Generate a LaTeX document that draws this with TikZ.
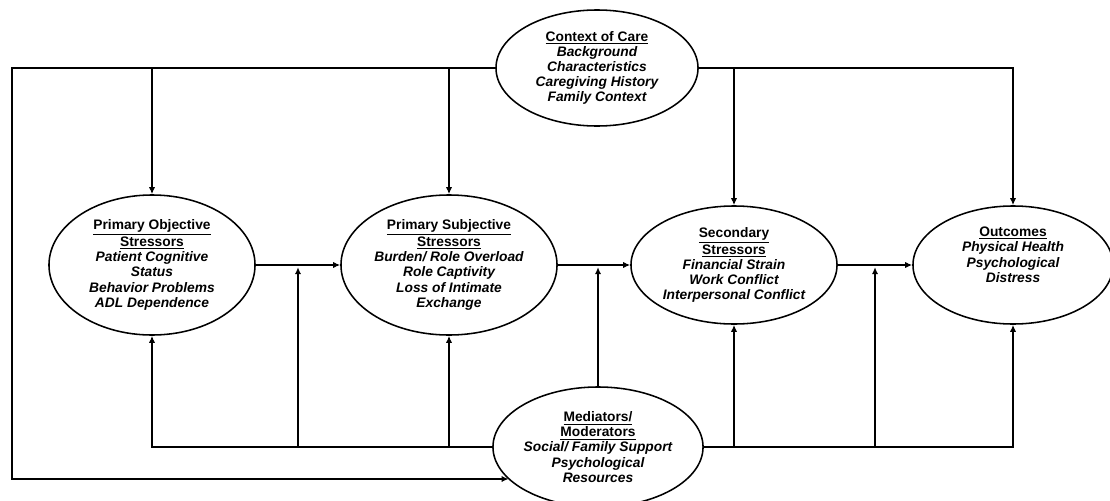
\documentclass[tikz,border=0pt]{standalone}
\usepackage{fontspec}
\setmainfont{Liberation Sans}
\usetikzlibrary{shapes.geometric,arrows.meta,calc}

\tikzset{
  stage/.style={ellipse, draw, line width=1.1pt, inner sep=0pt, align=center,
    font=\fontsize{9.8}{10.8}\selectfont\bfseries},
  arr/.style={-{Latex[length=5pt,width=4.5pt]}, line width=1.1pt},
}
\newcommand{\hd}[1]{\underline{#1}}

\begin{document}
\begin{tikzpicture}[x=0.025cm, y=-0.025cm]
    \useasboundingbox (0,0) rectangle (1110,500);

    % ellipses
    \node[stage, minimum width=5.05cm, minimum height=2.9cm] (ctx) at (597,68)
        {\hd{Context of Care}\\ \itshape Background\\ \itshape Characteristics\\ \itshape Caregiving History\\ \itshape Family Context};
    \node[stage, minimum width=5.15cm, minimum height=3.5cm] (obj) at (152,265)
        {\hd{Primary Objective}\\ \hd{Stressors}\\ \itshape Patient Cognitive\\ \itshape Status\\ \itshape Behavior Problems\\ \itshape ADL Dependence};
    \node[stage, minimum width=5.4cm, minimum height=3.5cm] (subj) at (449,265)
        {\hd{Primary Subjective}\\ \hd{Stressors}\\ \itshape Burden/ Role Overload\\ \itshape Role Captivity\\ \itshape Loss of Intimate\\ \itshape Exchange};
    \node[stage, minimum width=5.15cm, minimum height=2.95cm] (sec) at (734,265)
        {\hd{Secondary}\\ \hd{Stressors}\\ \itshape Financial Strain\\ \itshape Work Conflict\\ \itshape Interpersonal Conflict};
    \node[stage, minimum width=5.0cm, minimum height=2.95cm] (out) at (1013,265)
        {\hd{Outcomes}\\ \itshape Physical Health\\ \itshape Psychological\\ \itshape Distress\\[4pt]};
    \node[stage, minimum width=5.05cm, minimum height=3.0cm] (med) at (598,447)
        {\hd{Mediators/}\\ \hd{Moderators}\\ \itshape Social/ Family Support\\ \itshape Psychological\\ \itshape Resources};

    % context of care
    \coordinate (lb) at (12,479);
    \draw[arr] (ctx.west) -| (obj.north);
    \draw[arr] (ctx.west) -| (subj.north);
    \draw[arr] (ctx.east) -| (sec.north);
    \draw[arr] (ctx.east) -| (out.north);
    \draw[arr] (ctx.west) -| (lb) -- (lb -| med.200);

    % stressor chain
    \draw[arr] (obj.east) -- (subj.west);
    \draw[arr] (subj.east) -- (sec.west);
    \draw[arr] (sec.east) -- (out.west);

    % mediators
    \draw[arr, shorten >=1.5pt] (med.west) -| ($(obj.east)!.5!(subj.west)$);
    \draw[arr] (med.west) -| (obj.south);
    \draw[arr] (med.west) -| (subj.south);
    \draw[arr, shorten >=1.5pt] (med.north) -- (med.north |- subj.east);
    \draw[arr] (med.east) -| (sec.south);
    \draw[arr, shorten >=1.5pt] (med.east) -| ($(sec.east)!.5!(out.west)$);
    \draw[arr] (med.east) -| (out.south);
\end{tikzpicture}
\end{document}
